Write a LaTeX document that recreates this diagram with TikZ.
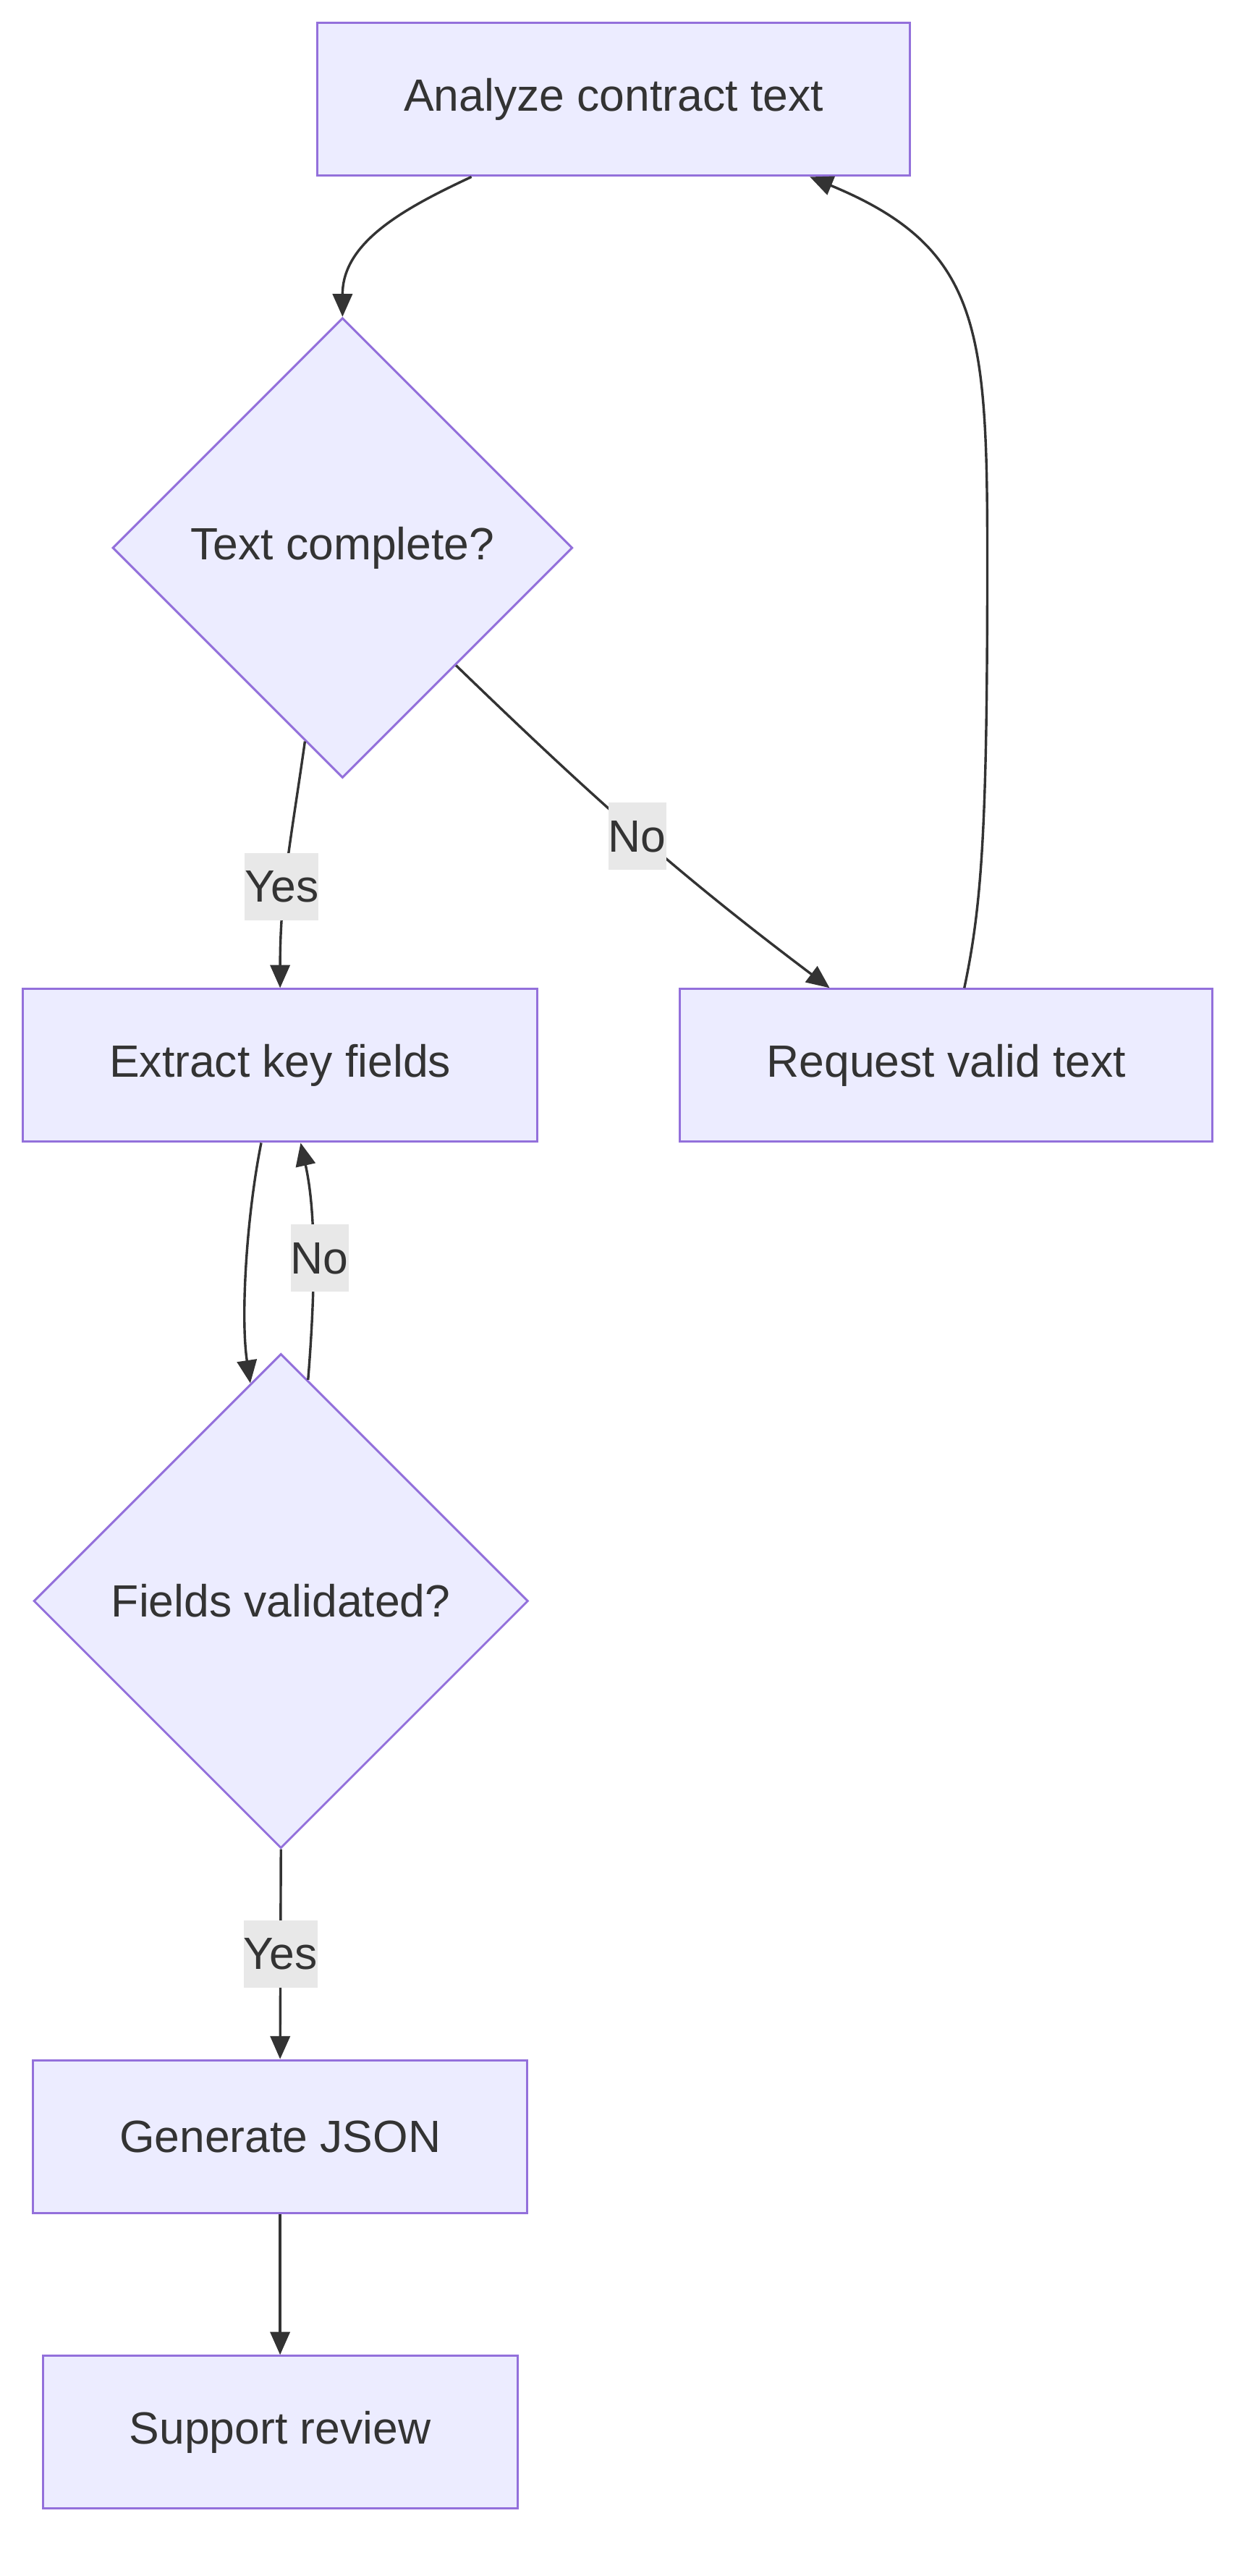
\documentclass[tikz,border=0pt]{standalone}
\usepackage{fontspec}
\setmainfont{Liberation Sans}
\usetikzlibrary{shapes.geometric, arrows.meta}
\definecolor{boxfill}{HTML}{ECECFF}
\definecolor{boxline}{HTML}{9370DB}
\definecolor{ink}{HTML}{333333}
\definecolor{labelbg}{HTML}{E8E8E8}

\begin{document}
\begin{tikzpicture}[x=1pt, y=1pt,
    every node/.style={font=\fontsize{27.5}{33}\selectfont, text=ink},
    stepbox/.style={draw=boxline, fill=boxfill, line width=1.3pt, minimum height=93pt, inner sep=0pt},
    decision/.style={diamond, aspect=1, draw=boxline, fill=boxfill, line width=1.3pt, inner sep=0pt},
    flow/.style={draw=ink, line width=1.5pt, -{Triangle[length=14pt, width=12pt]}},
    answer/.style={fill=labelbg, inner xsep=0pt, inner ysep=0pt, minimum height=41pt}
]
    \useasboundingbox (0,0) rectangle (766,-1568);

    % Steps and checks
    \node[stepbox, minimum width=361pt] (analyze) at (373.5,-60.5) {Analyze contract text};
    \node[decision, minimum size=280pt] (textok) at (208.5,-333.5) {Text complete?};
    \node[stepbox, minimum width=313pt] (extract) at (170.5,-648.5) {Extract key fields};
    \node[stepbox, minimum width=324pt] (request) at (576,-648.5) {Request valid text};
    \node[decision, minimum size=301pt] (fieldsok) at (171,-974.5) {Fields validated?};
    \node[stepbox, minimum width=301pt] (json) at (170.5,-1300.5) {Generate JSON};
    \node[stepbox, minimum width=289pt] (review) at (170.5,-1480.5) {Support review};

    % Text check
    \draw[flow] ([xshift=-86.5pt]analyze.south) to[out=-155, in=90] (textok.north);
    \draw[flow] (textok.-101) to[out=-98, in=90] node[answer, pos=0.6, xshift=-2pt] {Yes} (extract.north);
    \draw[flow] (textok.-46) to[out=-44, in=143] node[answer, pos=0.51, xshift=-2pt] {No} ([xshift=-71pt]request.north);

    % Back to the start
    \coordinate (retpath) at (601,-340);
    \draw[flow] ([xshift=11pt]request.north) .. controls +(11,52) and +(0,-160) .. (retpath)
        .. controls +(0,140) and +(104,-43) .. ([xshift=119.5pt]analyze.south);

    % Field check
    \draw[flow] ([xshift=-11.5pt]extract.south) .. controls +(-9,-45) and +(-6,40) .. (fieldsok.98);
    \draw[flow] (fieldsok.83) .. controls +(4,50) and +(10,-45) .. ([xshift=12.5pt]extract.south)
        node[answer, pos=0.5, xshift=4pt] {No};
    \draw[flow] (fieldsok.south) -- node[answer] {Yes} (json.north);
    \draw[flow] (json.south) -- (review.north);
\end{tikzpicture}
\end{document}
